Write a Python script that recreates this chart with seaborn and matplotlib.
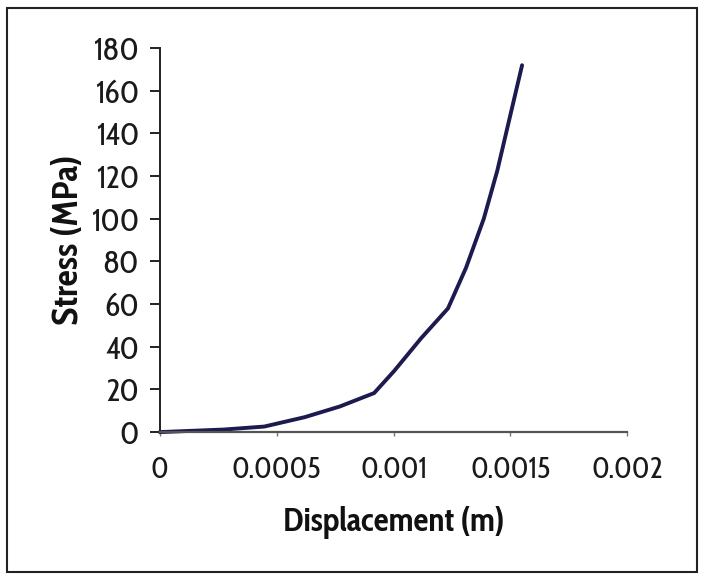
import matplotlib
matplotlib.use("Agg")
import matplotlib.pyplot as plt
import seaborn as sns
import pandas as pd
from matplotlib.patches import Rectangle

displacement = [0.0, 0.000274, 0.000447, 0.00062, 0.00077, 0.000917, 0.001003,
                0.001118, 0.001233, 0.00131, 0.001386, 0.001444, 0.001492, 0.00155]
stress = [0.0, 1.2, 2.6, 7.0, 12.0, 18.3, 28.7, 44.0, 58.0, 77.0, 100.0, 122.6, 145.0, 172.0]
x_ticks = [0, 0.0005, 0.001, 0.0015, 0.002]
x_tick_labels = ["0", "0.0005", "0.001", "0.0015", "0.002"]
y_ticks = [0, 20, 40, 60, 80, 100, 120, 140, 160, 180]

sns.set_style("ticks")
plt.rcParams["font.family"] = ["Cabin Condensed", "DejaVu Sans"]

df = pd.DataFrame({"Displacement (m)": displacement, "Stress (MPa)": stress})

fig = plt.figure(figsize=(7.04, 5.80), dpi=100)
ax = fig.add_axes([0.227, 0.255, 0.664, 0.662])

sns.lineplot(data=df, x="Displacement (m)", y="Stress (MPa)", ax=ax,
             color="#1c1a4e", linewidth=2.8, clip_on=False)

ax.set_xlim(0, 0.002)
ax.set_ylim(0, 180)
ax.set_xticks(x_ticks)
ax.set_xticklabels(x_tick_labels)
ax.set_yticks(y_ticks)

sns.despine(ax=ax)
ax.spines["left"].set_color("#222222")
ax.spines["left"].set_linewidth(1.4)
ax.spines["bottom"].set_color("#555555")
ax.spines["bottom"].set_linewidth(1.6)

ax.tick_params(axis="y", direction="out", length=7, width=1.4, color="#222222",
               labelsize=23, pad=8, labelcolor="#1a1a1a")
ax.tick_params(axis="x", direction="out", length=3, width=1.0, color="#777777",
               labelsize=21, pad=14, labelcolor="#1a1a1a")

ax.set_xlabel("Displacement (m)", fontsize=24, fontweight="bold", labelpad=15, color="#111111")
ax.set_ylabel("Stress (MPa)", fontsize=26, fontweight="bold", labelpad=3, color="#111111")

fig.patches.append(Rectangle((7 / 704, 8 / 580), 690 / 704, 564 / 580,
                             transform=fig.transFigure, fill=False,
                             edgecolor="#222222", linewidth=1.5))

fig.savefig("out.png", dpi=100)
